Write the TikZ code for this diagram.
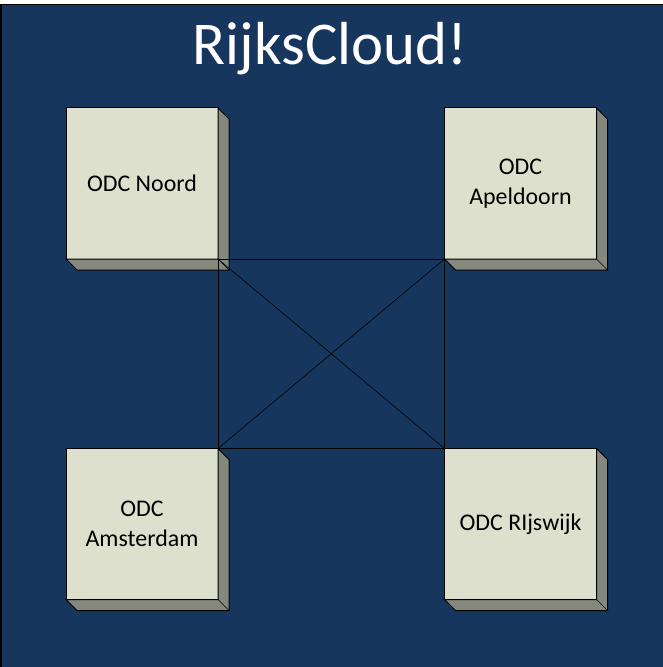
\documentclass[tikz,border=0pt]{standalone}
\usepackage{fontspec}
\setmainfont{Carlito}
\definecolor{rijksblue}{HTML}{17365D}
\definecolor{odcfill}{HTML}{DDE0CC}
\definecolor{odcside}{HTML}{84887E}
\begin{document}
\begin{tikzpicture}[x=1bp,y=-1bp]
\tikzstyle{odc}=[draw, rectangle, line width=1bp, outer sep=0pt, inner sep=0pt, minimum width=152bp, minimum height=151bp, fill=odcfill, align=center, font=\fontsize{24}{30}\selectfont]
\tikzstyle{side}=[draw, fill=odcside, line width=1bp]
\tikzstyle{link}=[draw, line width=1bp]
\tikzstyle{cross}=[draw, line width=0.6bp]

% Background
\useasboundingbox (0,0) rectangle (663,667);
\draw[fill=rijksblue, line width=1.5bp] (0.75,4.75) rectangle (680,680);

% Title
\node[font=\fontsize{61}{64}\selectfont, text=white, anchor=base] (title) at (330,65) {RijksCloud!};

% Define data centres
\node[odc] (noord) at (142,183.5) {ODC Noord};
\node[odc] (apeldoorn) at (520.5,183.5) {ODC\\Apeldoorn};
\node[odc] (amsterdam) at (142,524) {ODC\\Amsterdam};
\node[odc] (rijswijk) at (520.5,524) {ODC RIjswijk};

% 3D sides
\foreach \n in {noord,apeldoorn,amsterdam,rijswijk} {
  \draw[side] (\n.north east) -- ++(11,11) -- ++(0,151) -- ++(-152,0) -- (\n.south west) -- (\n.south east) -- cycle;
  \draw[line width=0.6bp] (\n.south east) -- ++(11,11);
}

% Connections
\draw[link] (noord.south east) -- (apeldoorn.south west) -- (rijswijk.north west) -- (amsterdam.north east) -- cycle;
\draw[cross] (noord.south east) -- (rijswijk.north west);
\draw[cross] (apeldoorn.south west) -- (amsterdam.north east);
\end{tikzpicture}
\end{document}
